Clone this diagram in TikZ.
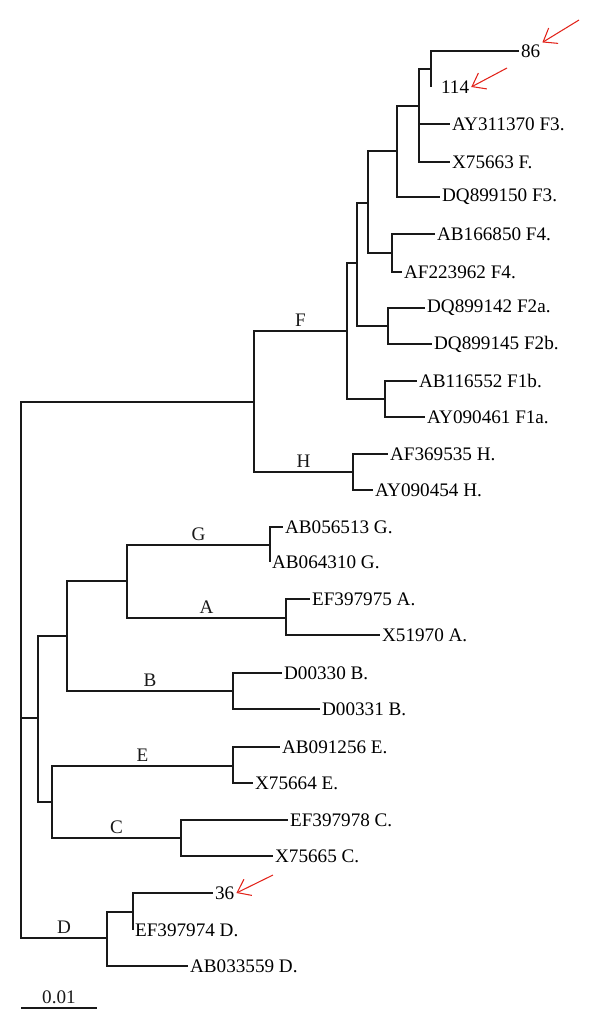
\documentclass[tikz,border=0pt]{standalone}
\usepackage{fontspec}
\setmainfont{Liberation Serif}
\usepackage{xcolor}
\usepackage{tikz}
\usetikzlibrary{positioning, arrows.meta}
\definecolor{markred}{HTML}{E2231A}

\begin{document}
\begin{tikzpicture}[
    x=0.2mm, y=-0.2mm,
    branch/.style={line width=0.7pt, black!90},
    leaf/.style={anchor=west, inner sep=1pt, font=\fontsize{10.9}{12}\selectfont},
    clade/.style={pos=0.75, above, inner sep=2pt, font=\fontsize{10.9}{12}\selectfont},
    markarr/.style={-{Straight Barb[length=2.4mm, width=3.6mm]}, markred, line width=0.6pt},
]
\useasboundingbox (0,0) rectangle (600,1030);

% Backbone
\coordinate (root) at (21,718);
\coordinate (nFH) at (254,402);
\coordinate (nX) at (38,718);
\coordinate (nD) at (107,938);

% F and H internal nodes
\coordinate (nF) at (347,331);
\coordinate (nF5) at (357,263);
\coordinate (nF34) at (368,203);
\coordinate (nF3) at (397,151);
\coordinate (nF3a) at (419,106);
\coordinate (n86) at (431,69);
\coordinate (nF4) at (392,253);
\coordinate (nF2) at (388,326);
\coordinate (nF1) at (385,399);
\coordinate (nH) at (353,472);

% G, A, B, E, C, D internal nodes
\coordinate (nGAB) at (67,636);
\coordinate (nGA) at (127,581);
\coordinate (nG) at (270,545);
\coordinate (nA) at (286,618);
\coordinate (nB) at (233,691);
\coordinate (nEC) at (52,802);
\coordinate (nE) at (233,766);
\coordinate (nC) at (181,838);
\coordinate (n36) at (133,912);

% Leaves, F and H
\node[leaf] (l86) at (519,51) {86};
\coordinate (t114) at (431,87);
\node[leaf, right=1.6mm of t114] (l114) {114};
\node[leaf] (lAY311370) at (450,124) {AY311370 F3.};
\node[leaf] (lX75663) at (450,162) {X75663 F.};
\node[leaf] (lDQ899150) at (440,197) {DQ899150 F3.};
\node[leaf] (lAB166850) at (435,234) {AB166850 F4.};
\node[leaf] (lAF223962) at (402,272) {AF223962 F4.};
\node[leaf] (lDQ899142) at (425,308) {DQ899142 F2a.};
\node[leaf] (lDQ899145) at (432,344) {DQ899145 F2b.};
\node[leaf] (lAB116552) at (417,381) {AB116552 F1b.};
\node[leaf] (lAY090461) at (425,417) {AY090461 F1a.};
\node[leaf] (lAF369535) at (388,454) {AF369535 H.};
\node[leaf] (lAY090454) at (373,490) {AY090454 H.};

% Leaves, other genotypes
\node[leaf] (lAB056513) at (283,527) {AB056513 G.};
\node[leaf] (lAB064310) at (270,562) {AB064310 G.};
\node[leaf] (lEF397975) at (310,599) {EF397975 A.};
\node[leaf] (lX51970) at (380,635) {X51970 A.};
\node[leaf] (lD00330) at (282,673) {D00330 B.};
\node[leaf] (lD00331) at (320,709) {D00331 B.};
\node[leaf] (lAB091256) at (280,747) {AB091256 E.};
\node[leaf] (lX75664) at (253,783) {X75664 E.};
\node[leaf] (lEF397978) at (288,820) {EF397978 C.};
\node[leaf] (lX75665) at (273,856) {X75665 C.};
\node[leaf] (l36) at (213,893) {36};
\node[leaf] (lEF397974) at (133,930) {EF397974 D.};
\node[leaf] (lAB033559) at (188,966) {AB033559 D.};

% Branches
\draw[branch] (root) |- (nFH) (root) |- (nX) (root) |- (nD) node[clade] {D};
\draw[branch] (nFH) |- (nF) node[clade] {F} (nFH) |- (nH) node[clade] {H};
\draw[branch] (nF) |- (nF5) (nF) |- (nF1);
\draw[branch] (nF5) |- (nF34) (nF5) |- (nF2);
\draw[branch] (nF34) |- (nF3) (nF34) |- (nF4);
\draw[branch] (nF3) |- (nF3a) (nF3) |- (lDQ899150.west);
\draw[branch] (nF3a) |- (n86) (nF3a) |- (lAY311370.west) (nF3a) |- (lX75663.west);
\draw[branch] (n86) |- (l86.west) (n86) |- (t114);
\draw[branch] (nF4) |- (lAB166850.west) (nF4) |- (lAF223962.west);
\draw[branch] (nF2) |- (lDQ899142.west) (nF2) |- (lDQ899145.west);
\draw[branch] (nF1) |- (lAB116552.west) (nF1) |- (lAY090461.west);
\draw[branch] (nH) |- (lAF369535.west) (nH) |- (lAY090454.west);

\draw[branch] (nX) |- (nGAB) (nX) |- (nEC);
\draw[branch] (nGAB) |- (nGA) (nGAB) |- (nB) node[clade] {B};
\draw[branch] (nGA) |- (nG) node[clade] {G} (nGA) |- (nA) node[clade] {A};
\draw[branch] (nG) |- (lAB056513.west) (nG) |- (lAB064310.west);
\draw[branch] (nA) |- (lEF397975.west) (nA) |- (lX51970.west);
\draw[branch] (nB) |- (lD00330.west) (nB) |- (lD00331.west);
\draw[branch] (nEC) |- (nE) node[clade] {E} (nEC) |- (nC) node[clade] {C};
\draw[branch] (nE) |- (lAB091256.west) (nE) |- (lX75664.west);
\draw[branch] (nC) |- (lEF397978.west) (nC) |- (lX75665.west);
\draw[branch] (nD) |- (n36) (nD) |- (lAB033559.west);
\draw[branch] (n36) |- (l36.west) (n36) |- (lEF397974.west);

% Markers
\coordinate (a86) at (579,20);
\coordinate (a114) at (507,68);
\coordinate (a36) at (273,875);
\draw[markarr] (a86) -- (l86.north east);
\draw[markarr] (a114) -- (l114.east);
\draw[markarr] (a36) -- (l36.east);

% Scale bar
\coordinate (s0) at (21,1008);
\coordinate (s1) at (97,1008);
\draw[branch] (s0) -- (s1) node[midway, above, inner sep=2pt, font=\fontsize{10.9}{12}\selectfont] {0.01};
\end{tikzpicture}
\end{document}
